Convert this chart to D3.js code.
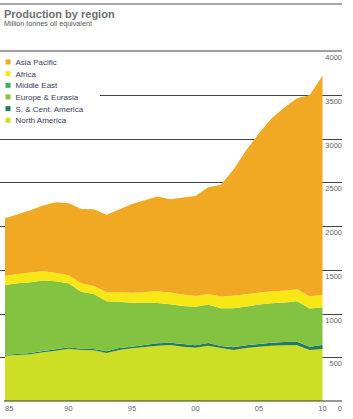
<!DOCTYPE html>
<html>
<head>
<meta charset="utf-8">
<script src="https://cdn.jsdelivr.net/npm/d3@7"></script>
<style>
  body { margin: 0; background: #fff; }
  text { font-family: "Liberation Sans", Arial, sans-serif; }
</style>
</head>
<body>
<div id="viz"></div>
<script>
const width = 353;
const height = 419;
const margin = {top: 51, right: 30.5, bottom: 18, left: 5};

const years = d3.range(1985, 2011);
const northAmerica = [518, 526, 534, 557, 575, 598, 583, 579, 549, 583, 602, 617, 632, 640, 621, 609, 632, 606, 583, 606, 621, 632, 637, 637, 583, 594];
const sCentAmerica = [11, 11, 15, 15, 16, 16, 15, 15, 19, 23, 18, 23, 27, 26, 31, 27, 31, 23, 31, 31, 31, 34, 38, 41, 38, 46];
const europeEurasia = [797, 808, 808, 803, 777, 731, 651, 629, 571, 526, 503, 483, 461, 439, 434, 441, 438, 431, 446, 441, 449, 450, 449, 462, 434, 431];
const middleEast = [1, 1, 1, 1, 1, 1, 1, 1, 1, 1, 1, 1, 1, 1, 1, 1, 1, 1, 1, 1, 1, 1, 1, 1, 1, 1];
const africa = [103, 106, 110, 107, 98, 90, 96, 91, 103, 111, 114, 122, 134, 133, 129, 122, 122, 133, 141, 142, 134, 137, 134, 137, 137, 141];
const asiaPacific = [659, 682, 713, 750, 805, 823, 849, 877, 887, 944, 1014, 1048, 1081, 1067, 1109, 1143, 1219, 1277, 1443, 1649, 1825, 1977, 2095, 2183, 2305, 2503];

const regions = ['North America', 'S. & Cent. America', 'Europe & Eurasia', 'Middle East', 'Africa', 'Asia Pacific'];
const series = [northAmerica, sCentAmerica, europeEurasia, middleEast, africa, asiaPacific];
const colors = ['#cddf24', '#237a5e', '#84c341', '#3aae5c', '#f7e714', '#f1a823'];
const yTicks = [0, 500, 1000, 1500, 2000, 2500, 3000, 3500, 4000];
const xTickLabels = ['85', '90', '95', '00', '05', '10'];

const rows = years.map((y, i) => {
	const r = {year: y};
	regions.forEach((k, j) => r[k] = series[j][i]);
	return r;
});

const stack = d3.stack().keys(regions),
	layers = stack(rows),
	xScale = d3.scaleLinear()
		.domain([1985, 2010])
		.range([margin.left, width - margin.right]),
	yScale = d3.scaleLinear()
		.domain([0, 4000])
		.range([height - margin.bottom, margin.top]),
	area = d3.area()
		.x(d => xScale(d.data.year))
		.y0(d => yScale(d[0]))
		.y1(d => yScale(d[1])),
	chart = d3.select('#viz')
		.append('svg')
		.attr('width', width)
		.attr('height', height);

const lineRight = 342;

// title
chart.append('line')
	.attr('x1', 0).attr('x2', lineRight)
	.attr('y1', 4).attr('y2', 4)
	.attr('stroke', '#8a8a8a').attr('stroke-width', 1.5);
chart.append('text')
	.attr('x', 4).attr('y', 17.5)
	.attr('font-size', 11).attr('font-weight', 'bold')
	.attr('fill', '#6d6e71')
	.text('Production by region');
chart.append('text')
	.attr('x', 4).attr('y', 26)
	.attr('font-size', 7.2)
	.attr('fill', '#555')
	.text('Million tonnes oil equivalent');

// gridlines
chart.append('g')
	.selectAll('line')
	.data(yTicks.filter(t => t > 0 && t < 4000))
	.join('line')
	.attr('x1', 0).attr('x2', lineRight)
	.attr('y1', d => Math.round(yScale(d)) + 0.5)
	.attr('y2', d => Math.round(yScale(d)) + 0.5)
	.attr('stroke', '#444').attr('stroke-width', 1);

// legend background hides the grid
chart.append('rect')
	.attr('x', 0).attr('y', 52)
	.attr('width', 100).attr('height', 76)
	.attr('fill', '#fff');

chart.append('line')
	.attr('x1', 0).attr('x2', lineRight)
	.attr('y1', yScale(4000)).attr('y2', yScale(4000))
	.attr('stroke', '#a0a0a0').attr('stroke-width', 2);

// areas
chart.append('g')
	.selectAll('path')
	.data(layers)
	.join('path')
	.attr('d', area)
	.attr('fill', (d, i) => colors[i]);

// baseline
chart.append('line')
	.attr('x1', 4).attr('x2', lineRight)
	.attr('y1', yScale(0)).attr('y2', yScale(0))
	.attr('stroke', '#333').attr('stroke-width', 1);

// y labels
chart.append('g')
	.selectAll('text')
	.data(yTicks)
	.join('text')
	.attr('x', lineRight)
	.attr('y', d => d === 0 ? yScale(0) + 10 : yScale(d) + 9)
	.attr('text-anchor', 'end')
	.attr('font-size', 7.5)
	.attr('fill', '#666')
	.text(d => d);

// x labels
chart.append('g')
	.selectAll('text')
	.data(xTickLabels)
	.join('text')
	.attr('x', (d, i) => xScale(1985 + i * 5))
	.attr('y', yScale(0) + 10)
	.attr('text-anchor', (d, i) => i === 0 ? 'start' : 'middle')
	.attr('font-size', 7.5)
	.attr('fill', '#666')
	.text(d => d);

// legend
const legend = chart.append('g')
	.selectAll('g')
	.data(regions.slice().reverse())
	.join('g')
	.attr('transform', (d, i) => `translate(5.5, ${62 + i * 11.65})`);

legend.append('rect')
	.attr('x', 0).attr('y', -2.5)
	.attr('width', 5).attr('height', 5)
	.attr('fill', d => colors[regions.indexOf(d)]);

legend.append('text')
	.attr('x', 10).attr('y', 3)
	.attr('font-size', 8)
	.attr('fill', '#3a3a5a')
	.text(d => d);
</script>
</body>
</html>
